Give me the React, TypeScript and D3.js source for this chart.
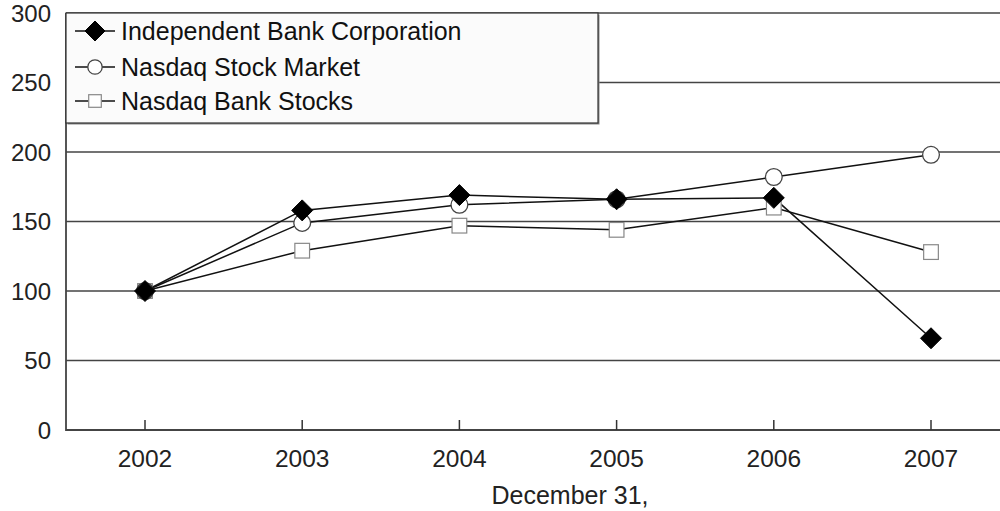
import React, { useEffect, useRef } from "react";
import * as d3 from "d3";

const years = [2002, 2003, 2004, 2005, 2006, 2007];
const independentBank = [100, 158, 169, 166, 167, 66];
const nasdaqMarket = [100, 149, 162, 166, 182, 198];
const nasdaqBank = [100, 129, 147, 144, 160, 128];
const yTicks = [0, 50, 100, 150, 200, 250, 300];

const font = "'Liberation Sans', Arial, Helvetica, sans-serif";

// plot frame (right side runs off the picture)
const left = 66;
const right = 1000;
const top = 13;
const bottom = 430;

type Series = { name: string; values: number[]; marker: "diamond" | "circle" | "square" };

const series: Series[] = [
  { name: "Nasdaq Bank Stocks", values: nasdaqBank, marker: "square" },
  { name: "Nasdaq Stock Market", values: nasdaqMarket, marker: "circle" },
  { name: "Independent Bank Corporation", values: independentBank, marker: "diamond" },
];
const legendOrder = [series[2], series[1], series[0]];

const drawMarker = (
  g: d3.Selection<SVGGElement, unknown, null, undefined>,
  kind: Series["marker"],
  cx: number,
  cy: number,
  size: number
) => {
  if (kind === "diamond") {
    g.append("path")
      .attr("d", `M${cx},${cy - size} L${cx + size},${cy} L${cx},${cy + size} L${cx - size},${cy} Z`)
      .attr("fill", "#000")
      .attr("stroke", "#000")
      .attr("stroke-width", 1);
  } else if (kind === "circle") {
    g.append("circle")
      .attr("cx", cx)
      .attr("cy", cy)
      .attr("r", size * 0.8)
      .attr("fill", "#fff")
      .attr("stroke", "#444")
      .attr("stroke-width", 1.3);
  } else {
    const s = size * 0.7;
    g.append("rect")
      .attr("x", cx - s)
      .attr("y", cy - s)
      .attr("width", s * 2)
      .attr("height", s * 2)
      .attr("fill", "#fff")
      .attr("stroke", "#888")
      .attr("stroke-width", 1.2);
  }
};

export default function App() {
  const ref = useRef<SVGSVGElement>(null);

  useEffect(() => {
    const svg = d3.select(ref.current);
    svg.selectAll("*").remove();
    const root = svg.append("g") as d3.Selection<SVGGElement, unknown, null, undefined>;

    const x = d3.scaleLinear().domain([2002, 2007]).range([145, 931]);
    const y = d3.scaleLinear().domain([0, 300]).range([bottom, top]);

    // gridlines
    root
      .selectAll("line.grid")
      .data(yTicks.filter((t) => t > 0))
      .enter()
      .append("line")
      .attr("class", "grid")
      .attr("x1", left)
      .attr("x2", right)
      .attr("y1", (d) => y(d))
      .attr("y2", (d) => y(d))
      .attr("stroke", "#444")
      .attr("stroke-width", 1.6);

    // axes
    root
      .append("path")
      .attr("d", `M${left},${top} L${left},${bottom} L${right},${bottom}`)
      .attr("fill", "none")
      .attr("stroke", "#444")
      .attr("stroke-width", 1.8);

    root
      .selectAll("line.xtick")
      .data(years)
      .enter()
      .append("line")
      .attr("x1", (d) => x(d))
      .attr("x2", (d) => x(d))
      .attr("y1", bottom)
      .attr("y2", bottom - 10)
      .attr("stroke", "#333")
      .attr("stroke-width", 1.5);

    root
      .selectAll("text.ylab")
      .data(yTicks)
      .enter()
      .append("text")
      .attr("x", 51)
      .attr("y", (d) => y(d) + 8.5)
      .attr("text-anchor", "end")
      .attr("font-family", font)
      .attr("font-size", 24)
      .attr("fill", "#222")
      .text((d) => d);

    root
      .selectAll("text.xlab")
      .data(years)
      .enter()
      .append("text")
      .attr("x", (d) => x(d))
      .attr("y", 467)
      .attr("text-anchor", "middle")
      .attr("font-family", font)
      .attr("font-size", 24.5)
      .attr("fill", "#222")
      .text((d) => d);

    root
      .append("text")
      .attr("x", 570)
      .attr("y", 504)
      .attr("text-anchor", "middle")
      .attr("font-family", font)
      .attr("font-size", 25)
      .attr("fill", "#222")
      .text("December 31,");

    // series
    const line = d3
      .line<number>()
      .x((_, i) => x(years[i]))
      .y((d) => y(d));

    series.forEach((s) => {
      root
        .append("path")
        .attr("d", line(s.values))
        .attr("fill", "none")
        .attr("stroke", "#111")
        .attr("stroke-width", 1.5);
    });
    series.forEach((s) => {
      s.values.forEach((v, i) => drawMarker(root, s.marker, x(years[i]), y(v), 10.5));
    });

    // legend
    const lg = root.append("g");
    lg.append("rect")
      .attr("x", left + 1.5)
      .attr("y", top + 1.5)
      .attr("width", 598 - left)
      .attr("height", 123 - top)
      .attr("fill", "#888");
    lg.append("rect")
      .attr("x", left)
      .attr("y", top)
      .attr("width", 598 - left)
      .attr("height", 123 - top)
      .attr("fill", "#fbfbfb")
      .attr("stroke", "#333")
      .attr("stroke-width", 1.2);

    const rowY = [31, 67, 101];
    legendOrder.forEach((s, i) => {
      const cy = rowY[i];
      lg.append("line")
        .attr("x1", 75)
        .attr("x2", 115)
        .attr("y1", cy)
        .attr("y2", cy)
        .attr("stroke", "#111")
        .attr("stroke-width", 1.5);
      drawMarker(lg, s.marker, 95, cy, s.marker === "diamond" ? 10 : 9);
      lg.append("text")
        .attr("x", 121)
        .attr("y", cy + 8.5)
        .attr("font-family", font)
        .attr("font-size", 25)
        .attr("fill", "#111")
        .text(s.name);
    });
  }, []);

  return (
    <svg
      ref={ref}
      width={1000}
      height={511}
      style={{ position: "absolute", left: 0, top: 0, background: "#fff" }}
    />
  );
}
